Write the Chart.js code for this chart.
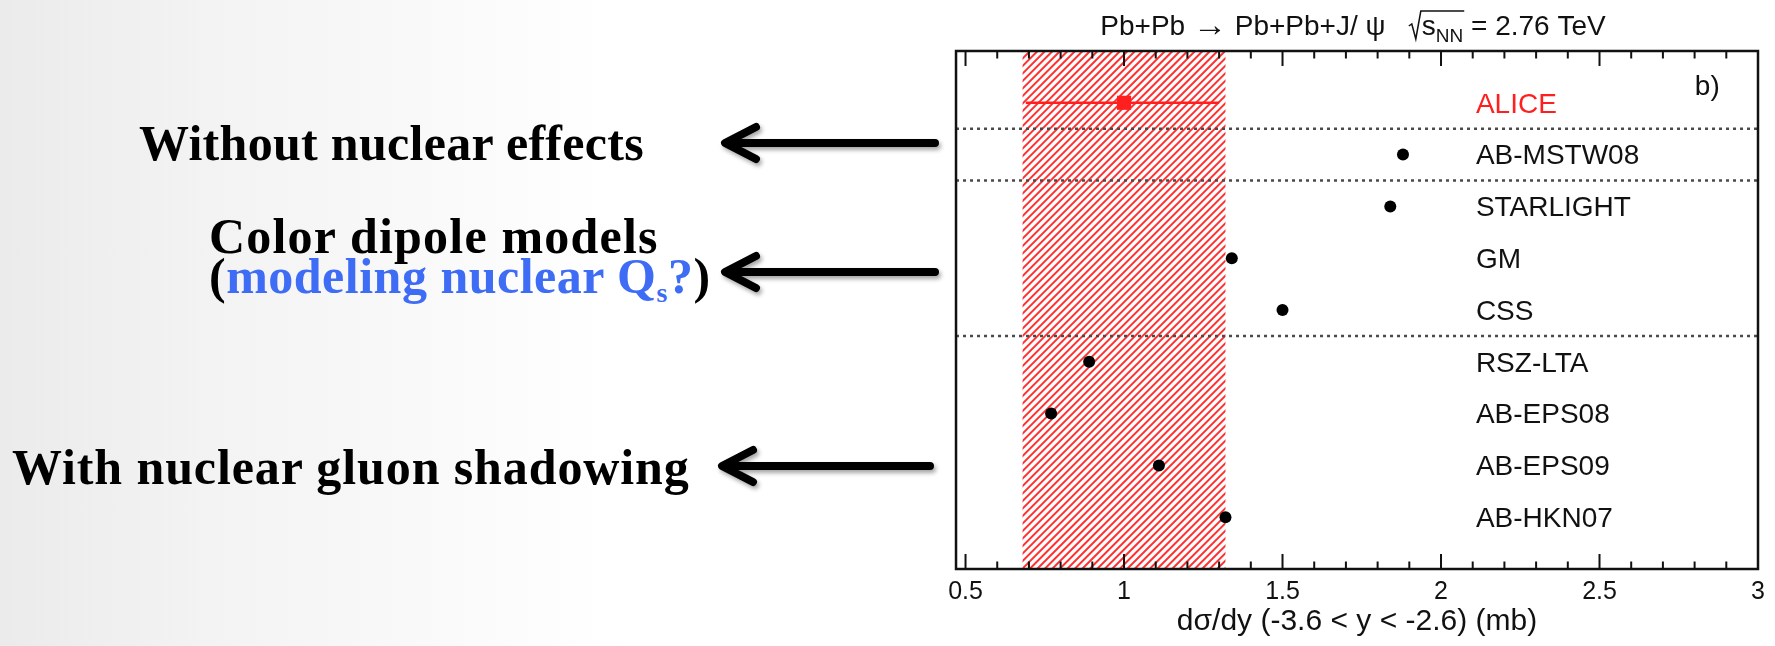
<!DOCTYPE html>
<html>
<head>
<meta charset="utf-8">
<script src="https://cdn.jsdelivr.net/npm/chart.js@4.4.0/dist/chart.umd.min.js"></script>
<style>
  body {
    margin: 0;
    width: 1775px;
    height: 646px;
    overflow: hidden;
    background: linear-gradient(90deg, #ebebeb 0px, #f2f2f2 180px, #f9f9f9 420px, #ffffff 620px);
    position: relative;
  }
  .t {
    position: absolute;
    font-family: "Liberation Serif", "DejaVu Serif", serif;
    font-weight: bold;
    font-size: 50px;
    line-height: 50px;
    color: #000;
    white-space: nowrap;
  }
  .blue { color: #3f6cf5; }
  .t sub { font-size: 28px; line-height: 0; vertical-align: -9px; }
  #arrows { position: absolute; left: 0; top: 0; }
  #wrap { position: absolute; left: 940px; top: 0; width: 835px; height: 646px; }
</style>
</head>
<body>
<div class="t" style="left:139px;top:118px;letter-spacing:0.3px">Without nuclear effects</div>
<div class="t" style="left:209px;top:211px;letter-spacing:1.2px">Color dipole models</div>
<div class="t" style="left:209px;top:251px;letter-spacing:0.5px">(<span class="blue">modeling nuclear Q<sub>s</sub>?</span>)</div>
<div class="t" style="left:12px;top:442px;letter-spacing:0.9px">With nuclear gluon shadowing</div>

<svg id="arrows" width="945" height="646">
  <defs>
    <filter id="sh" x="-10%" y="-50%" width="120%" height="200%">
      <feDropShadow dx="2" dy="3" stdDeviation="2" flood-color="#000" flood-opacity="0.35"/>
    </filter>
  </defs>
  <g stroke="#000" stroke-width="8" stroke-linecap="round" stroke-linejoin="round" fill="none" filter="url(#sh)">
    <path d="M935 143 L729 143 M756 127 L725 143 L756 159"/>
    <path d="M935 272 L729 272 M756 256 L725 272 L756 288"/>
    <path d="M930 466 L726 466 M753 450 L722 466 L753 482"/>
  </g>
</svg>

<div id="wrap"><canvas id="c"></canvas></div>

<script>
// categories top to bottom, ALICE measurement first
const categories = ['ALICE', 'AB-MSTW08', 'STARLIGHT', 'GM', 'CSS', 'RSZ-LTA', 'AB-EPS08', 'AB-EPS09', 'AB-HKN07'];
// model predictions dsigma/dy (mb), same order as categories[1..]
const modelValues = [1.88, 1.84, 1.34, 1.50, 0.89, 0.77, 1.11, 1.32];
// ALICE measurement
const aliceValue = [1.00];
const aliceStatBar = [0.69, 1.30];
const aliceBand = [0.68, 1.32];
// dotted separators between groups
const separators = [0.5, 1.5, 4.5];
const xTickValues = [0.5, 1, 1.5, 2, 2.5, 3];
const minorStep = 0.1;
const labelX = 2.11;
const panelTag = { text: 'b)', x: 2.84, y: -0.3 };

const red = '#ff1f1f';
const sans = '"Liberation Sans", Arial, sans-serif';

const decorations = {
  id: 'decorations',
  beforeDatasetsDraw(chart) {
    const ctx = chart.ctx, a = chart.chartArea;
    const xs = chart.scales.x, ys = chart.scales.y;
    // hatched band = ALICE total uncertainty
    const x0 = xs.getPixelForValue(aliceBand[0]);
    const x1 = xs.getPixelForValue(aliceBand[1]);
    const h = a.bottom - a.top;
    ctx.save();
    ctx.beginPath();
    ctx.rect(x0, a.top, x1 - x0, h);
    ctx.clip();
    ctx.strokeStyle = '#ff3030';
    ctx.lineWidth = 2;
    for (let x = x0 - h; x < x1 + 8; x += 7.5) {
      ctx.beginPath();
      ctx.moveTo(x, a.bottom);
      ctx.lineTo(x + h, a.top);
      ctx.stroke();
    }
    ctx.restore();

    // dotted lines
    ctx.save();
    ctx.strokeStyle = '#4a4a4a';
    ctx.lineWidth = 2.5;
    ctx.setLineDash([3, 4]);
    separators.forEach(function (s) {
      const y = ys.getPixelForValue(s);
      ctx.beginPath();
      ctx.moveTo(a.left, y);
      ctx.lineTo(a.right, y);
      ctx.stroke();
    });
    ctx.restore();
  },
  afterDatasetsDraw(chart) {
    const ctx = chart.ctx, a = chart.chartArea;
    const xs = chart.scales.x, ys = chart.scales.y;
    ctx.save();
    // frame
    ctx.strokeStyle = '#111';
    ctx.lineWidth = 2.5;
    ctx.strokeRect(a.left, a.top, a.right - a.left, a.bottom - a.top);
    // inward ticks, top and bottom
    ctx.lineWidth = 2;
    const first = xTickValues[0], last = xTickValues[xTickValues.length - 1];
    const n = Math.round((last - first) / minorStep);
    for (let k = 0; k <= n; k++) {
      const v = first + k * minorStep;
      const len = (k % 5 === 0) ? 15 : 7.5;
      const px = xs.getPixelForValue(v);
      ctx.beginPath();
      ctx.moveTo(px, a.top);
      ctx.lineTo(px, a.top + len);
      ctx.moveTo(px, a.bottom);
      ctx.lineTo(px, a.bottom - len);
      ctx.stroke();
    }
    // category labels
    ctx.font = '28px ' + sans;
    ctx.textBaseline = 'middle';
    ctx.textAlign = 'left';
    categories.forEach(function (c, i) {
      ctx.fillStyle = i === 0 ? red : '#111';
      ctx.fillText(c, xs.getPixelForValue(labelX), ys.getPixelForValue(i) + 2);
    });
    ctx.fillStyle = '#111';
    ctx.textAlign = 'center';
    ctx.fillText(panelTag.text, xs.getPixelForValue(panelTag.x), ys.getPixelForValue(panelTag.y));

    // title with sqrt(s_NN)
    const base = 35;
    const big = '28px ' + sans, small = '19px ' + sans;
    const parts = [
      { t: 'Pb+Pb ', f: big },
      { t: '\u2192', f: '34px ' + sans, dy: 1 },
      { t: ' Pb+Pb+J/ \u03c8', f: big },
      { t: '   ', f: big },
      { t: '', f: big, sqrt: 13 },
      { t: 's', f: big },
      { t: 'NN', f: small, dy: 7 },
      { t: ' = 2.76 TeV', f: big }
    ];
    let total = 0;
    parts.forEach(function (p) {
      ctx.font = p.f;
      p.w = ctx.measureText(p.t).width + (p.sqrt || 0);
      total += p.w;
    });
    let x = (a.left + a.right) / 2 - 4 - total / 2;
    ctx.textAlign = 'left';
    ctx.textBaseline = 'alphabetic';
    let sqrtStart = 0;
    parts.forEach(function (p) {
      ctx.font = p.f;
      if (p.sqrt) sqrtStart = x;
      ctx.fillText(p.t, x, base + (p.dy || 0));
      x += p.w;
      if (p.t === 'NN') {
        ctx.lineWidth = 1.5;
        ctx.beginPath();
        ctx.moveTo(sqrtStart, base - 9);
        ctx.lineTo(sqrtStart + 3, base - 11);
        ctx.lineTo(sqrtStart + 7, base + 4);
        ctx.lineTo(sqrtStart + 12, base - 24);
        ctx.lineTo(x + 1, base - 24);
        ctx.stroke();
      }
    });
    ctx.restore();
  }
};

const ctx = document.getElementById('c').getContext('2d');
new Chart(ctx, {
  type: 'scatter',
  data: {
    datasets: [
      {
        label: 'ALICE stat',
        data: aliceStatBar.map(function (v) { return { x: v, y: 0 }; }),
        showLine: true,
        borderColor: red,
        borderWidth: 2.5,
        pointRadius: 0
      },
      {
        label: 'ALICE',
        data: aliceValue.map(function (v) { return { x: v, y: 0 }; }),
        pointStyle: 'rect',
        pointRadius: 10,
        backgroundColor: red,
        borderColor: red,
        borderWidth: 0
      },
      {
        label: 'Models',
        data: modelValues.map(function (v, i) { return { x: v, y: i + 1 }; }),
        pointStyle: 'circle',
        pointRadius: 6,
        backgroundColor: '#000',
        borderColor: '#000',
        borderWidth: 0
      }
    ]
  },
  options: {
    responsive: true,
    maintainAspectRatio: false,
    animation: false,
    layout: { padding: { left: 13, right: 17, top: 51, bottom: 0 } },
    plugins: {
      legend: { display: false },
      tooltip: { enabled: false }
    },
    scales: {
      x: {
        type: 'linear',
        min: 0.47,
        max: 3,
        afterBuildTicks: function (scale) {
          scale.ticks = xTickValues.map(function (v) { return { value: v }; });
        },
        afterFit: function (scale) { scale.height = 77; },
        grid: { display: false, drawTicks: false },
        border: { display: false },
        ticks: {
          padding: 8,
          color: '#111',
          font: { family: sans, size: 25 },
          maxRotation: 0,
          callback: function (v) { return String(v); }
        },
        title: {
          display: true,
          text: 'd\u03c3/dy (-3.6 < y < -2.6) (mb)',
          color: '#111',
          font: { family: sans, size: 30 },
          padding: { top: 0, bottom: 6 }
        }
      },
      y: {
        type: 'linear',
        display: false,
        min: -1,
        max: 9,
        reverse: true
      }
    }
  },
  plugins: [decorations]
});
</script>
</body>
</html>
